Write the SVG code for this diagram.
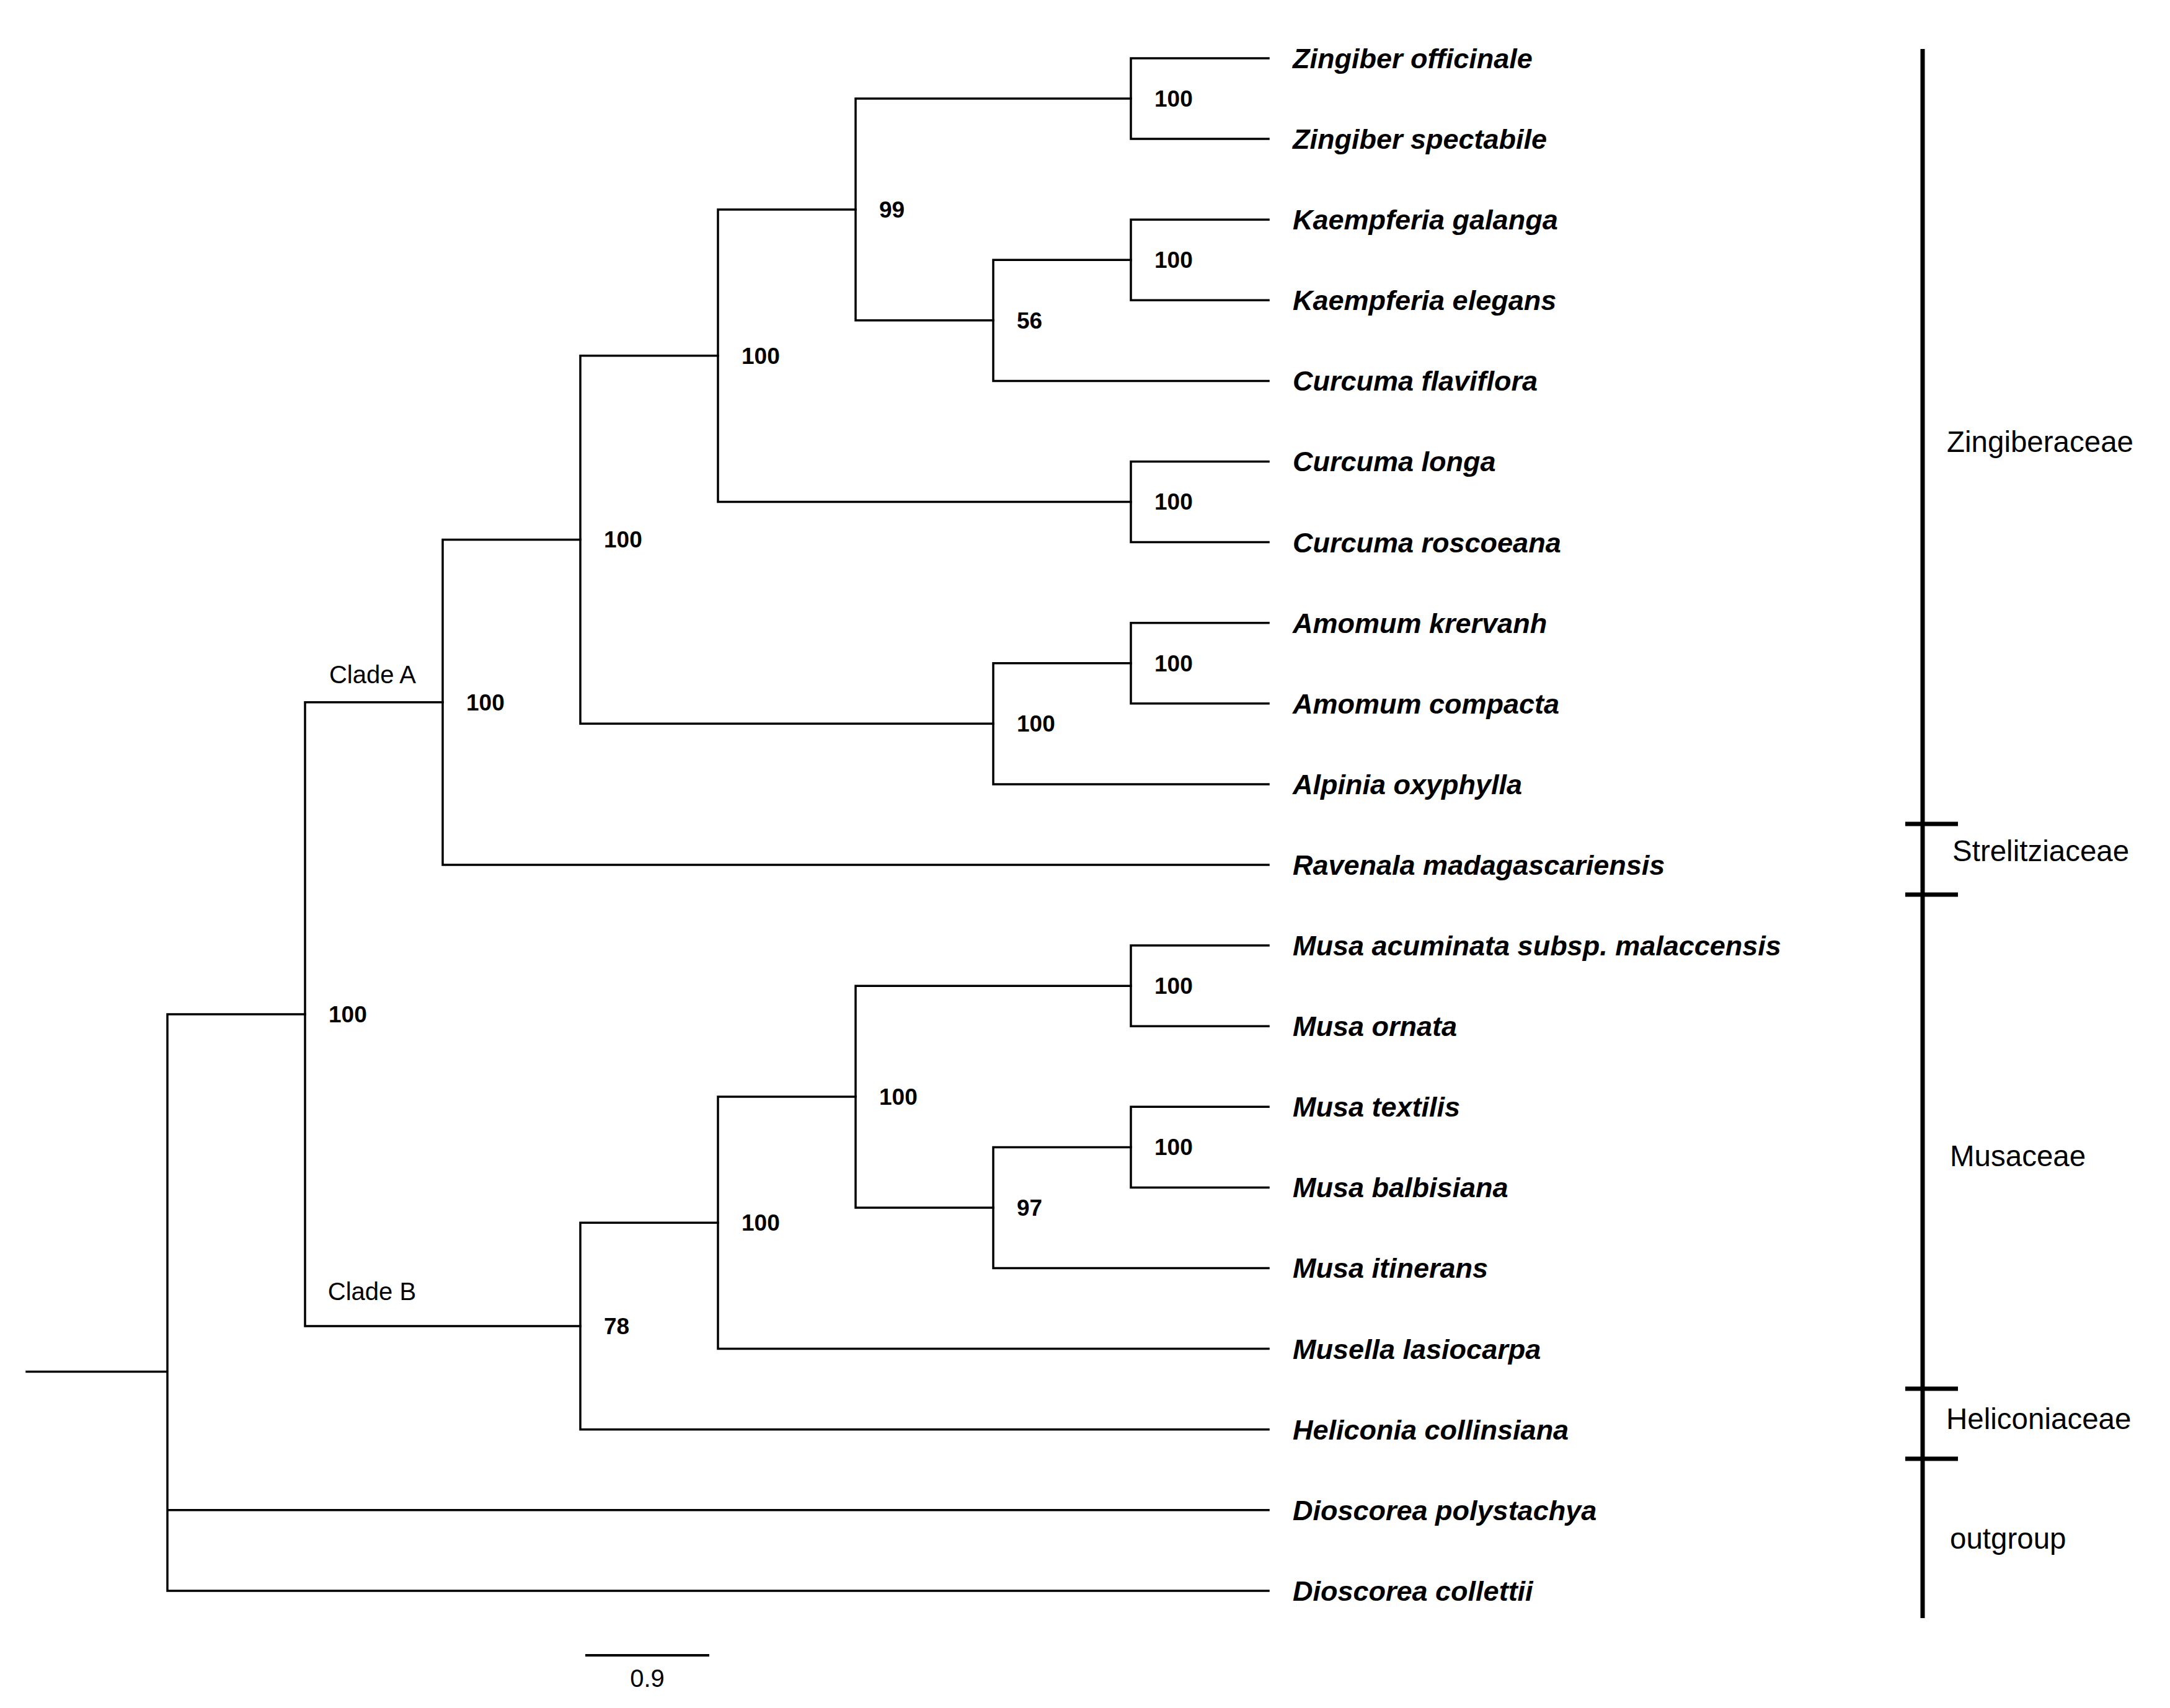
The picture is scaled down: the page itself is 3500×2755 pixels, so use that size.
<svg xmlns="http://www.w3.org/2000/svg" width="3500" height="2755" viewBox="0 0 3500 2755">
<style>
.e{fill:none;stroke:#000;stroke-width:3.5;stroke-linecap:square}
.tx{font-family:"Liberation Sans",Arial,sans-serif;font-weight:bold;font-style:italic;font-size:45px;fill:#000}
.bs{font-family:"Liberation Sans",Arial,sans-serif;font-weight:bold;font-size:37px;fill:#000}
.fam{font-family:"Liberation Sans",Arial,sans-serif;font-size:47.5px;fill:#000}
.cl{font-family:"Liberation Sans",Arial,sans-serif;font-size:40px;fill:#000}
.bar{fill:none;stroke:#000;stroke-width:7}
</style>
<rect width="3500" height="2755" fill="#fff"/>
<g id="connectors">
<path class="e" d="M43 2212.5H270M270 1635.9V2565.9M270 1635.9H492M270 2435.8H2046M270 2565.9H2046"/>
<path class="e" d="M492 1132.8V2139M492 1132.8H714M492 2139H936"/>
<path class="e" d="M714 870.5V1395M714 870.5H936M714 1395H2046"/>
<path class="e" d="M936 573.7V1167.3M936 573.7H1158M936 1167.3H1602"/>
<path class="e" d="M1158 337.9V809.5M1158 337.9H1380M1158 809.5H1824"/>
<path class="e" d="M1380 159V516.7M1380 159H1824M1380 516.7H1602"/>
<path class="e" d="M1602 419.2V614.4M1602 419.2H1824M1602 614.4H2046"/>
<path class="e" d="M1824 94V224.1M1824 94H2046M1824 224.1H2046"/>
<path class="e" d="M1824 354.2V484.3M1824 354.2H2046M1824 484.3H2046"/>
<path class="e" d="M1824 744.5V874.6M1824 744.5H2046M1824 874.6H2046"/>
<path class="e" d="M1602 1069.7V1264.9M1602 1069.7H1824M1602 1264.9H2046"/>
<path class="e" d="M1824 1004.7V1134.8M1824 1004.7H2046M1824 1134.8H2046"/>
<path class="e" d="M936 1972.3V2305.7M936 1972.3H1158M936 2305.7H2046"/>
<path class="e" d="M1158 1769V2175.6M1158 1769H1380M1158 2175.6H2046"/>
<path class="e" d="M1380 1590.2V1947.9M1380 1590.2H1824M1380 1947.9H1602"/>
<path class="e" d="M1602 1850.4V2045.5M1602 1850.4H1824M1602 2045.5H2046"/>
<path class="e" d="M1824 1525.1V1655.2M1824 1525.1H2046M1824 1655.2H2046"/>
<path class="e" d="M1824 1785.3V1915.4M1824 1785.3H2046M1824 1915.4H2046"/>
</g>
<g id="taxa">
<text id="t0" class="tx" x="2085" y="110">Zingiber officinale</text>
<text id="t1" class="tx" x="2085" y="240">Zingiber spectabile</text>
<text id="t2" class="tx" x="2085" y="370">Kaempferia galanga</text>
<text id="t3" class="tx" x="2085" y="500">Kaempferia elegans</text>
<text id="t4" class="tx" x="2085" y="630">Curcuma flaviflora</text>
<text id="t5" class="tx" x="2085" y="760">Curcuma longa</text>
<text id="t6" class="tx" x="2085" y="891">Curcuma roscoeana</text>
<text id="t7" class="tx" x="2085" y="1021">Amomum krervanh</text>
<text id="t8" class="tx" x="2085" y="1151">Amomum compacta</text>
<text id="t9" class="tx" x="2085" y="1281">Alpinia oxyphylla</text>
<text id="t10" class="tx" x="2085" y="1411">Ravenala madagascariensis</text>
<text id="t11" class="tx" x="2085" y="1541">Musa acuminata subsp. malaccensis</text>
<text id="t12" class="tx" x="2085" y="1671">Musa ornata</text>
<text id="t13" class="tx" x="2085" y="1801">Musa textilis</text>
<text id="t14" class="tx" x="2085" y="1931">Musa balbisiana</text>
<text id="t15" class="tx" x="2085" y="2061">Musa itinerans</text>
<text id="t16" class="tx" x="2085" y="2192">Musella lasiocarpa</text>
<text id="t17" class="tx" x="2085" y="2322">Heliconia collinsiana</text>
<text id="t18" class="tx" x="2085" y="2452">Dioscorea polystachya</text>
<text id="t19" class="tx" x="2085" y="2582">Dioscorea collettii</text>
</g>
<g id="support">
<text class="bs" x="1862" y="172">100</text>
<text class="bs" x="1418" y="351">99</text>
<text class="bs" x="1862" y="432">100</text>
<text class="bs" x="1640" y="530">56</text>
<text class="bs" x="1196" y="587">100</text>
<text class="bs" x="1862" y="822">100</text>
<text class="bs" x="974" y="883">100</text>
<text class="bs" x="1862" y="1083">100</text>
<text class="bs" x="1640" y="1180">100</text>
<text class="bs" x="752" y="1146">100</text>
<text class="bs" x="530" y="1649">100</text>
<text class="bs" x="1862" y="1603">100</text>
<text class="bs" x="1418" y="1782">100</text>
<text class="bs" x="1862" y="1863">100</text>
<text class="bs" x="1640" y="1961">97</text>
<text class="bs" x="1196" y="1985">100</text>
<text class="bs" x="974" y="2152">78</text>
</g>
<g id="clades">
<text class="cl" x="601" y="1102" text-anchor="middle">Clade A</text>
<text class="cl" x="600" y="2097" text-anchor="middle">Clade B</text>
</g>
<g id="families">
<path class="bar" d="M3101 79V2610M3073 1329H3158M3073 1443H3158M3073 2240H3158M3073 2353H3158"/>
<text class="fam" x="3140" y="729">Zingiberaceae</text>
<text class="fam" x="3149" y="1389">Strelitziaceae</text>
<text class="fam" x="3145" y="1881">Musaceae</text>
<text class="fam" x="3139" y="2305">Heliconiaceae</text>
<text class="fam" x="3145" y="2498">outgroup</text>
</g>
<g id="scale">
<path d="M944 2670H1144" stroke="#000" stroke-width="4"/>
<text class="cl" x="1044" y="2721" text-anchor="middle" font-size="34">0.9</text>
</g>
</svg>
